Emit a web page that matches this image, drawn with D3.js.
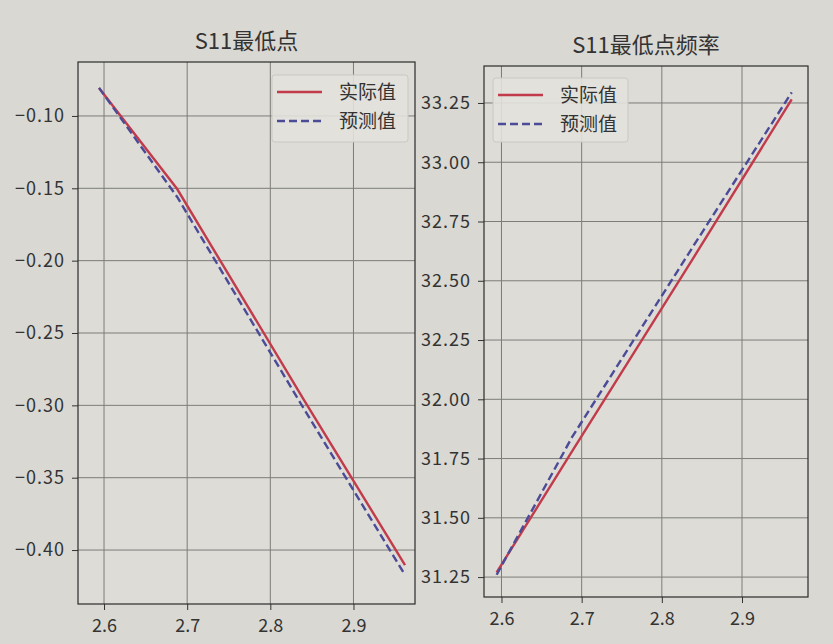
<!DOCTYPE html>
<html>
<head>
<meta charset="utf-8">
<script src="https://cdn.jsdelivr.net/npm/d3@7"></script>
<style>
  html, body { margin: 0; padding: 0; background: #d9d8d2; }
  svg { display: block; }
  text { font-family: "Noto Sans CJK SC", "DejaVu Sans", sans-serif; fill: #333; }
</style>
</head>
<body>
<svg id="chart" width="833" height="644"></svg>
<script>
// ---- data ----
const xValues = [2.594, 2.688, 2.84, 2.962];
const s11Actual = [-0.0806, -0.1505, -0.2958, -0.4104];
const s11Predicted = [-0.0806, -0.156, -0.302, -0.4173];
const freqActual = [31.27, 31.78, 32.60, 33.265];
const freqPredicted = [31.26, 31.84, 32.65, 33.295];
const xTicks = [2.6, 2.7, 2.8, 2.9];
const s11Ticks = [-0.10, -0.15, -0.20, -0.25, -0.30, -0.35, -0.40];
const freqTicks = [31.25, 31.50, 31.75, 32.00, 32.25, 32.50, 32.75, 33.00, 33.25];
const titles = ["S11最低点", "S11最低点频率"];
const legendLabels = ["实际值", "预测值"];

const svg = d3.select("#chart");
const RED = "#c23b4b";
const BLUE = "#4b4b98";

function panel(o) {
  const g = svg.append("g");
  const x = d3.scaleLinear().domain(o.xDomain).range([o.left, o.right]);
  const y = d3.scaleLinear().domain(o.yDomain).range([o.bottom, o.top]);

  g.append("rect").attr("x", o.left).attr("y", o.top)
    .attr("width", o.right - o.left).attr("height", o.bottom - o.top)
    .attr("fill", "#dddcd6");

  // grid
  g.selectAll(".gx").data(xTicks).join("line")
    .attr("x1", d => x(d)).attr("x2", d => x(d))
    .attr("y1", o.top).attr("y2", o.bottom)
    .attr("stroke", "#7c7c7a").attr("stroke-width", 1);
  g.selectAll(".gy").data(o.yTicks).join("line")
    .attr("x1", o.left).attr("x2", o.right)
    .attr("y1", d => y(d)).attr("y2", d => y(d))
    .attr("stroke", "#7c7c7a").attr("stroke-width", 1);

  // axes
  const xAxis = d3.axisBottom(x).tickValues(xTicks).tickSize(6).tickPadding(9)
    .tickFormat(d3.format(".1f"));
  const yAxis = d3.axisLeft(y).tickValues(o.yTicks).tickSize(6).tickPadding(7)
    .tickFormat(d => d3.format(".2f")(d).replace("-", "−"));
  const gx = g.append("g").attr("transform", `translate(0,${o.bottom})`).call(xAxis);
  const gy = g.append("g").attr("transform", `translate(${o.left},0)`).call(yAxis);
  [gx, gy].forEach(a => {
    a.select(".domain").remove();
    a.selectAll("line").attr("stroke", "#333").attr("stroke-width", 1);
    a.selectAll("text").attr("font-size", 18).attr("fill", "#333")
      .attr("font-family", '"Noto Sans CJK SC", "DejaVu Sans", sans-serif');
  });
  gy.selectAll("text").attr("letter-spacing", "1px");

  // lines
  const line = d3.line().x((d, i) => x(xValues[i])).y(d => y(d));
  g.append("path").datum(o.actual).attr("d", line)
    .attr("fill", "none").attr("stroke", RED).attr("stroke-width", 2.4);
  g.append("path").datum(o.pred).attr("d", line)
    .attr("fill", "none").attr("stroke", BLUE).attr("stroke-width", 2.4)
    .attr("stroke-dasharray", "8,4");

  // frame
  g.append("rect").attr("x", o.left).attr("y", o.top)
    .attr("width", o.right - o.left).attr("height", o.bottom - o.top)
    .attr("fill", "none").attr("stroke", "#2b2b2b").attr("stroke-width", 1.2);

  // title
  g.append("text").attr("x", (o.left + o.right) / 2).attr("y", o.top - 13)
    .attr("text-anchor", "middle").attr("font-size", 22).text(o.title);

  // legend
  const L = o.legend;
  g.append("rect").attr("x", L.x).attr("y", L.y).attr("width", L.w).attr("height", L.h)
    .attr("rx", 3).attr("fill", "#e2e1dc").attr("fill-opacity", 0.9)
    .attr("stroke", "#c9c8c3");
  const items = [{c: RED, dash: null}, {c: BLUE, dash: "8,4"}];
  items.forEach((it, i) => {
    const yy = L.y + 17 + i * 29;
    g.append("line").attr("x1", L.x + 5).attr("x2", L.x + 50)
      .attr("y1", yy).attr("y2", yy).attr("stroke", it.c).attr("stroke-width", 2.4)
      .attr("stroke-dasharray", it.dash);
    g.append("text").attr("x", L.x + 67).attr("y", yy + 7).attr("font-size", 19)
      .text(legendLabels[i]);
  });
}

panel({
  left: 78, right: 415, top: 62, bottom: 604,
  xDomain: [2.5687, 2.974], yDomain: [-0.4373, -0.0627],
  yTicks: s11Ticks, actual: s11Actual, pred: s11Predicted, title: titles[0],
  legend: {x: 272, y: 75, w: 136, h: 67}
});
panel({
  left: 484, right: 808, top: 66, bottom: 597,
  xDomain: [2.5782, 2.9823], yDomain: [31.166, 33.406],
  yTicks: freqTicks, actual: freqActual, pred: freqPredicted, title: titles[1],
  legend: {x: 493, y: 78, w: 135, h: 64}
});
</script>
</body>
</html>
